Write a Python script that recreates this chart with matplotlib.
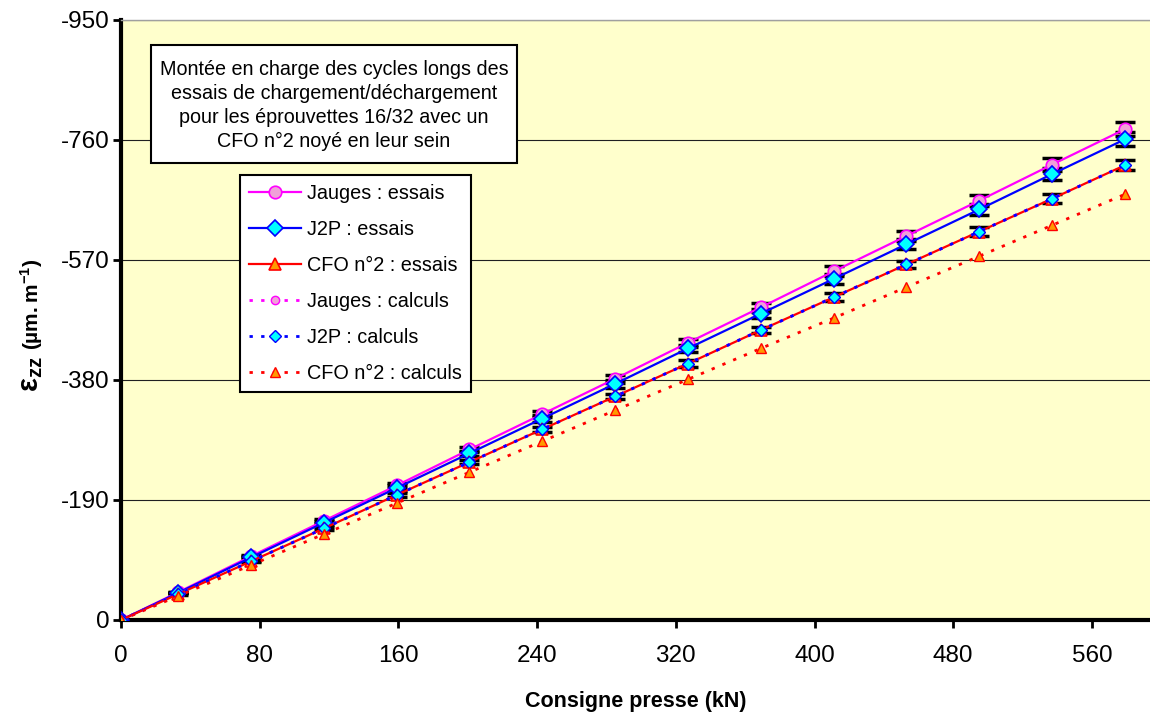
import matplotlib.pyplot as plt

plt.rcParams['font.family'] = ['Liberation Sans', 'DejaVu Sans']
plt.rcParams['axes.unicode_minus'] = False
plt.rcParams['mathtext.fontset'] = 'custom'
plt.rcParams['mathtext.rm'] = 'Liberation Sans'
plt.rcParams['mathtext.bf'] = 'Liberation Sans:bold'

# Consigne presse (kN)
charge = [0, 33, 75, 117, 159, 201, 243, 285, 327, 369, 411, 453, 495, 537, 579]

# deformations eps_zz (um/m)
jauges_essais = [0, -44, -101, -157, -213, -270, -326, -382, -439, -495, -552, -608, -664, -721, -777]
j2p_essais = [0, -43, -99, -154, -209, -264, -319, -374, -430, -485, -540, -595, -650, -706, -761]
cfo_essais = [0, -41, -93, -145, -198, -250, -302, -354, -406, -459, -511, -563, -615, -667, -720]
jauges_calculs = [0, -41, -93, -145, -198, -250, -302, -354, -406, -459, -511, -563, -615, -667, -720]
j2p_calculs = [0, -41, -93, -145, -198, -250, -302, -354, -406, -459, -511, -563, -615, -667, -720]
cfo_calculs = [0, -38, -87, -136, -185, -234, -283, -332, -381, -430, -478, -527, -576, -625, -674]

# dispersion des essais
err_jauges = [0, 1, 2, 3, 4, 4, 5, 6, 6, 7, 8, 8, 9, 10, 11]
err_j2p = [0, 1, 2, 3, 4, 4, 5, 6, 6, 7, 8, 8, 9, 10, 11]
err_cfo = [0, 1, 1, 2, 3, 3, 4, 4, 5, 5, 6, 6, 7, 7, 8]

xticks = [0, 80, 160, 240, 320, 400, 480, 560]
yticks = [0, -190, -380, -570, -760, -950]

fig, ax = plt.subplots(figsize=(11.5, 7.15), dpi=100)
fig.subplots_adjust(left=121/1150, right=1.0, top=1 - 20/715, bottom=1 - 620/715)
ax.set_facecolor('#FFFFCC')

# barres d'erreur (sous les marqueurs)
for y, e in [(jauges_essais, err_jauges), (j2p_essais, err_j2p), (cfo_essais, err_cfo)]:
    ax.errorbar(charge, y, yerr=e, fmt='none', ecolor='black', elinewidth=1.2,
                capsize=7, capthick=2.5, zorder=3)

dot = (0, (1.2, 3))
ax.plot(charge, jauges_essais, color='#FF00FF', lw=1.6, marker='o', ms=9,
        mfc='#F0A0D8', mec='#FF00FF', mew=1.2, label='Jauges : essais', zorder=4)
ax.plot(charge, j2p_essais, color='#0000FF', lw=1.6, marker='D', ms=8,
        mfc='#00FFFF', mec='#0000FF', mew=1.2, label='J2P : essais', zorder=4)
ax.plot(charge, cfo_essais, color='#FF0000', lw=1.6, marker='^', ms=9,
        mfc='#FF9900', mec='#FF0000', mew=1.2, label='CFO n°2 : essais', zorder=4)
ax.plot(charge, jauges_calculs, color='#FF00FF', lw=2, ls=dot, marker='o', ms=6,
        mfc='#F0A0D8', mec='#FF00FF', mew=1, label='Jauges : calculs', zorder=4)
ax.plot(charge, j2p_calculs, color='#0000FF', lw=2, ls=dot, marker='D', ms=6,
        mfc='#00FFFF', mec='#0000FF', mew=1, label='J2P : calculs', zorder=4)
ax.plot(charge, cfo_calculs, color='#FF0000', lw=2, ls=dot, marker='^', ms=6.5,
        mfc='#FF9900', mec='#FF0000', mew=1, label='CFO n°2 : calculs', zorder=4)

ax.set_xlim(0, 593.5)
ax.set_ylim(0, -950)
ax.set_xticks(xticks)
ax.set_yticks(yticks)
ax.tick_params(labelsize=17.5, direction='out', length=6, width=2, colors='black')
ax.tick_params(axis='x', pad=12)
ax.tick_params(axis='y', pad=2)
ax.yaxis.grid(True, color='#202020', lw=0.8)
ax.set_axisbelow(True)

for s in ['left', 'bottom']:
    ax.spines[s].set_linewidth(3)
ax.spines['top'].set_color('#A0A0A0')
ax.spines['top'].set_linewidth(1)
ax.spines['right'].set_visible(False)

ax.set_xlabel('Consigne presse (kN)', fontsize=15.5, fontweight='bold', labelpad=17)
ax.text(-0.087, 0.41, r'$\mathbf{ε}_{\mathbf{zz}}$', transform=ax.transAxes,
        rotation=90, ha='center', va='center', fontsize=21)
ax.text(-0.087, 0.527, r'($\mathbf{µm.m}^{\mathbf{-1}}$)', transform=ax.transAxes,
        rotation=90, ha='center', va='center', fontsize=15, fontweight='bold')

# cadre de titre
ax.add_patch(plt.Rectangle((0.029, 0.762), 0.356, 0.196, transform=ax.transAxes,
                           facecolor='white', edgecolor='black', lw=1.5, zorder=5))
ax.text(0.207, 0.858, 'Montée en charge des cycles longs des\n'
        'essais de chargement/déchargement\n'
        'pour les éprouvettes 16/32 avec un\n'
        'CFO n°2 noyé en leur sein',
        transform=ax.transAxes, ha='center', va='center', fontsize=14.2,
        linespacing=1.33, zorder=6)

leg = ax.legend(loc='upper left', bbox_to_anchor=(0.1155, 0.742), fontsize=14.3,
                fancybox=False, edgecolor='black', framealpha=1, borderaxespad=0,
                handlelength=2.65, handletextpad=0.3, labelspacing=0.86,
                borderpad=0.45)
leg.get_frame().set_linewidth(1.5)
leg.set_zorder(7)

plt.savefig('out.png')
